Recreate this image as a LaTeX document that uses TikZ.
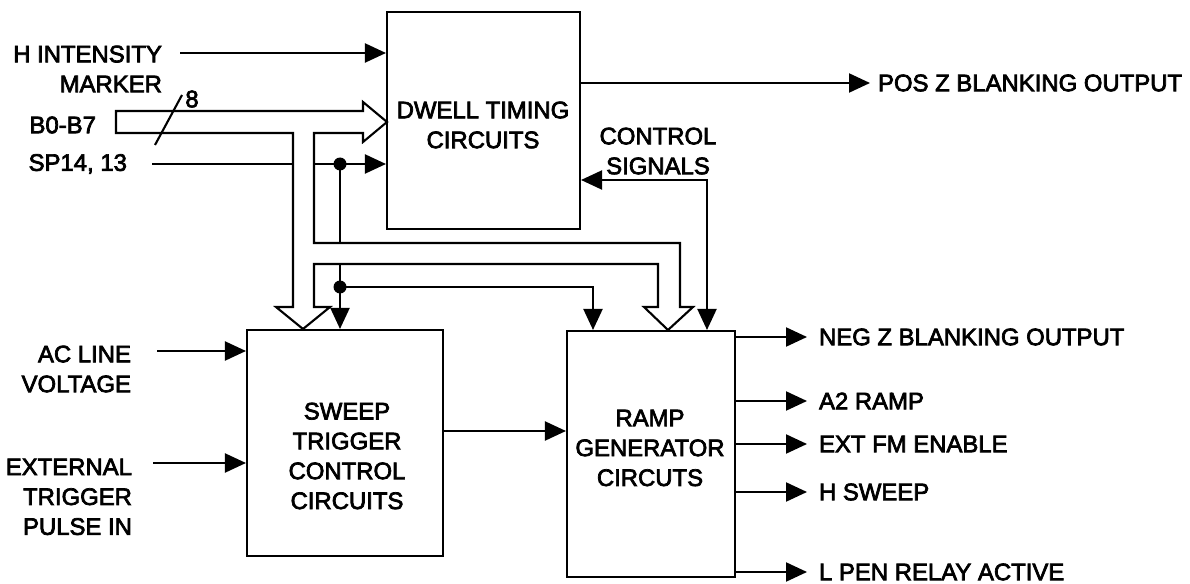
\documentclass[tikz,border=0pt]{standalone}
\usepackage{fontspec}
\setmainfont{Liberation Sans}[FakeBold=3]
\usetikzlibrary{arrows.meta, positioning, calc}

\begin{document}
\begin{tikzpicture}[
x=0.02cm, y=-0.02cm,
line width=1.2pt,
font=\fontsize{13.6}{17}\selectfont,
block/.style={draw, rectangle, inner sep=0pt},
txt/.style={inner sep=0pt, align=center},
lbl/.style={inner sep=0pt},
arrow/.style={-{Triangle[length=4.2mm, width=3.8mm]}},
biarrow/.style={{Triangle[length=4.2mm, width=3.8mm]}-{Triangle[length=4.2mm, width=3.8mm]}},
dot/.style={circle, fill, inner sep=0pt, minimum size=2.6mm},
bus/.style={draw, fill=white}
]
\useasboundingbox (0,0) rectangle (1190,584);

\node[block, minimum width=3.86cm, minimum height=4.34cm] (dwell) at (483.5,120.5) {};
\node[block, minimum width=3.92cm, minimum height=4.52cm] (sweep) at (345,443) {};
\node[block, minimum width=3.36cm, minimum height=4.92cm] (ramp) at (651,454) {};
\node[txt] (dwelltxt) at (483,125) {DWELL TIMING\\CIRCUITS};
\node[txt] (sweeptxt) at (347,456) {SWEEP\\TRIGGER\\CONTROL\\CIRCUITS};
\node[txt] (ramptxt) at (650,448) {RAMP\\GENERATOR\\CIRCUTS};

\node[lbl, anchor=north east, align=right] (hint) at (163,44.6) {H INTENSITY\\MARKER};
\node[lbl, anchor=east] (busin) at (97,125) {B0-B7};
\node[lbl, anchor=east] (spin) at (128,164) {SP14, 13};
\node[lbl, anchor=north east, align=right] (acin) at (132,344.6) {AC LINE\\VOLTAGE};
\node[lbl, anchor=north east, align=right] (extin) at (133,457.6) {EXTERNAL\\TRIGGER\\PULSE IN};
\node[lbl, anchor=north, align=center] (ctrl) at (658,126.6) {CONTROL\\SIGNALS};
\node[lbl, anchor=west] (posz) at (877,83) {POS Z BLANKING OUTPUT};
\node[lbl] (nbits) at (192,99) {8};

\coordinate (hin) at (180,53);
\coordinate (spstart) at (152,164);
\coordinate (acstart) at (157,351);
\coordinate (extstart) at (153,463);
\coordinate (j1) at (340,164);
\coordinate (j2) at (340,287);

\draw[arrow] (hin) -- (hin -| dwell.west);
\draw[arrow] (spstart) -- (spstart -| dwell.west);
\draw[arrow] (acstart) -- (acstart -| sweep.west);
\draw[arrow] (extstart) -- (extstart -| sweep.west);
\draw[arrow] (j1) -- (j1 |- sweep.north);
\draw[arrow] (j2) -| (ramp.north -| 593,0);
\draw[biarrow] (dwell.east |- 0,180) -| (ramp.north -| 707,0);
\draw[arrow] (dwell.east |- posz.west) -- ([xshift=-0.14cm]posz.west);
\draw[arrow] (sweep.east |- 0,431) -- (ramp.west |- 0,431);
\foreach \n/\y/\t in {negz/337/NEG Z BLANKING OUTPUT, atwo/401/A2 RAMP, extfm/444/EXT FM ENABLE, hsweep/492/H SWEEP, lpen/572/L PEN RELAY ACTIVE} {
  \node[lbl, anchor=west] (\n) at (818,\y) {\t};
  \draw[arrow] (ramp.east |- \n.west) -- ([xshift=-0.22cm]\n.west);
}

\draw[bus] (116,111) -- (363,111) -- (363,102) -- (387,122) -- (363,142) -- (363,133)
  -- (314,133) -- (314,243) -- (680,243) -- (680,307) -- (693,307) -- (668,330)
  -- (644,307) -- (658,307) -- (658,264) -- (314,264) -- (314,307) -- (330,307)
  -- (303,329) -- (276,307) -- (293,307) -- (293,133) -- (116,133) -- cycle;
\draw (155,145) -- (182,95);
\node[dot] (d1) at (j1) {};
\node[dot] (d2) at (j2) {};
\end{tikzpicture}
\end{document}
